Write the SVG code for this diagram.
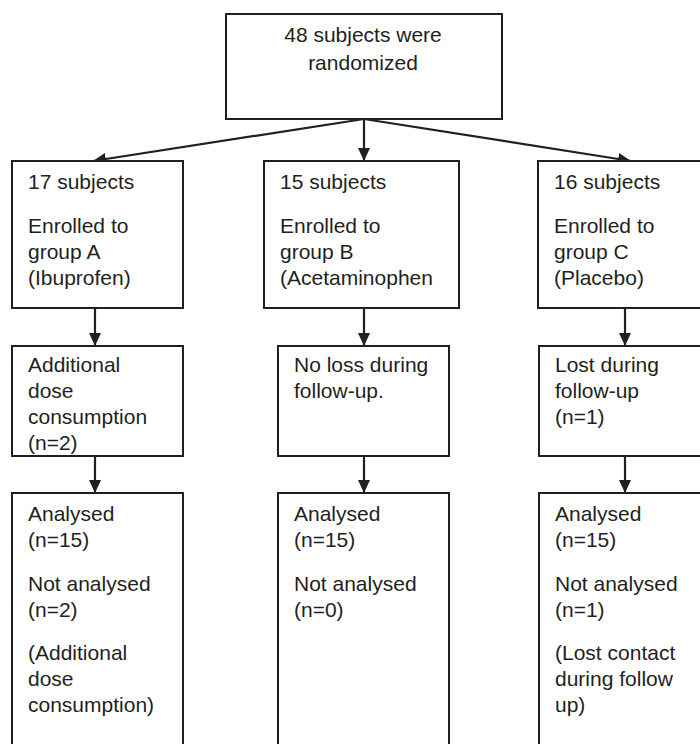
<svg xmlns="http://www.w3.org/2000/svg" width="700" height="744" viewBox="0 0 700 744">
<style>
.box{fill:#fff;stroke:#231f20;stroke-width:2}
.t{font-family:"Liberation Sans",Arial,sans-serif;font-size:21px;fill:#231f20}
.c{text-anchor:middle}
.ln{stroke:#231f20;stroke-width:2.2;fill:none;marker-end:url(#ah)}
</style>
<defs>
<marker id="ah" markerUnits="userSpaceOnUse" markerWidth="14" markerHeight="14" viewBox="0 0 14 14" refX="13" refY="7" orient="auto">
<path d="M0,1 L13,7 L0,13 Z" fill="#231f20"/>
</marker>
</defs>
<rect width="700" height="744" fill="#fff"/>
<g id="connectors">
<line class="ln" x1="364" y1="119" x2="93" y2="161"/>
<line class="ln" x1="364" y1="119" x2="364" y2="161"/>
<line class="ln" x1="364" y1="119" x2="631" y2="161"/>
<line class="ln" x1="95" y1="308" x2="95" y2="346"/>
<line class="ln" x1="364" y1="308" x2="364" y2="346"/>
<line class="ln" x1="625" y1="308" x2="625" y2="346"/>
<line class="ln" x1="95" y1="456" x2="95" y2="493"/>
<line class="ln" x1="364" y1="456" x2="364" y2="493"/>
<line class="ln" x1="625" y1="456" x2="625" y2="493"/>
</g>
<g id="randomized">
<rect class="box" x="226" y="14" width="276" height="105"/>
<text class="t c" x="363" y="42">48 subjects were</text>
<text class="t c" x="363" y="70">randomized</text>
</g>
<g id="groupA">
<rect class="box" x="12" y="161" width="171" height="147"/>
<text class="t" x="28" y="189">17 subjects</text>
<text class="t" x="28" y="233">Enrolled to</text>
<text class="t" x="28" y="259">group A</text>
<text class="t" x="28" y="285">(Ibuprofen)</text>
</g>
<g id="groupB">
<rect class="box" x="264" y="161" width="195" height="147"/>
<text class="t" x="280" y="189">15 subjects</text>
<text class="t" x="280" y="233">Enrolled to</text>
<text class="t" x="280" y="259">group B</text>
<text class="t" x="280" y="285">(Acetaminophen</text>
</g>
<g id="groupC">
<rect class="box" x="538" y="161" width="175" height="147"/>
<text class="t" x="554" y="189">16 subjects</text>
<text class="t" x="554" y="233">Enrolled to</text>
<text class="t" x="554" y="259">group C</text>
<text class="t" x="554" y="285">(Placebo)</text>
</g>
<g id="followA">
<rect class="box" x="12" y="346" width="171" height="110"/>
<text class="t" x="28" y="372">Additional</text>
<text class="t" x="28" y="398">dose</text>
<text class="t" x="28" y="424">consumption</text>
<text class="t" x="28" y="450">(n=2)</text>
</g>
<g id="followB">
<rect class="box" x="278" y="346" width="171" height="110"/>
<text class="t" x="294" y="372">No loss during</text>
<text class="t" x="294" y="398">follow-up.</text>
</g>
<g id="followC">
<rect class="box" x="539" y="346" width="175" height="110"/>
<text class="t" x="555" y="372">Lost during</text>
<text class="t" x="555" y="398">follow-up</text>
<text class="t" x="555" y="424">(n=1)</text>
</g>
<g id="analysisA">
<rect class="box" x="12" y="493" width="171" height="270"/>
<text class="t" x="28" y="521">Analysed</text>
<text class="t" x="28" y="547">(n=15)</text>
<text class="t" x="28" y="591">Not analysed</text>
<text class="t" x="28" y="617">(n=2)</text>
<text class="t" x="28" y="660">(Additional</text>
<text class="t" x="28" y="686">dose</text>
<text class="t" x="28" y="712">consumption)</text>
</g>
<g id="analysisB">
<rect class="box" x="278" y="493" width="171" height="270"/>
<text class="t" x="294" y="521">Analysed</text>
<text class="t" x="294" y="547">(n=15)</text>
<text class="t" x="294" y="591">Not analysed</text>
<text class="t" x="294" y="617">(n=0)</text>
</g>
<g id="analysisC">
<rect class="box" x="539" y="493" width="175" height="270"/>
<text class="t" x="555" y="521">Analysed</text>
<text class="t" x="555" y="547">(n=15)</text>
<text class="t" x="555" y="591">Not analysed</text>
<text class="t" x="555" y="617">(n=1)</text>
<text class="t" x="555" y="660">(Lost contact</text>
<text class="t" x="555" y="686">during follow</text>
<text class="t" x="555" y="712">up)</text>
</g>
</svg>
